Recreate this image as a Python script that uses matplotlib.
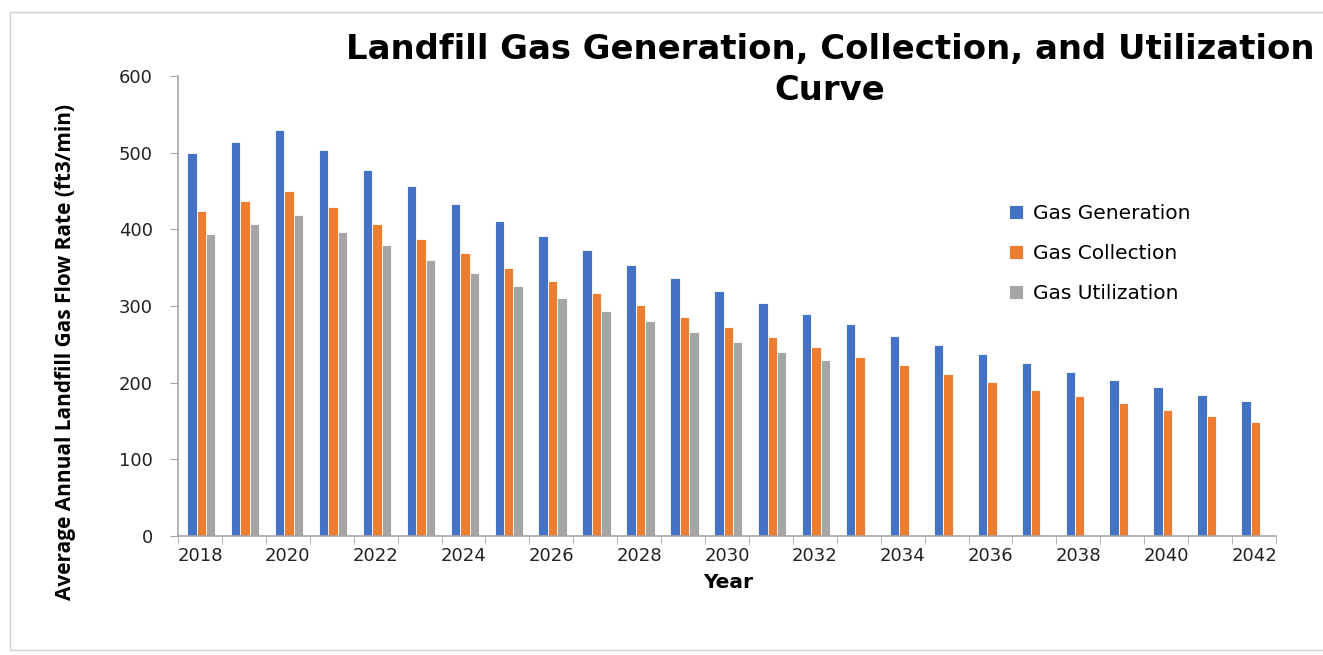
import numpy as np
import matplotlib
matplotlib.use("Agg")
import matplotlib.pyplot as plt
from matplotlib.patches import Rectangle

# ── Data ──────────────────────────────────────────────────────────────────────
years = list(range(2018, 2043))
generation = [500, 514, 530, 504, 478, 456, 433, 411, 391, 373, 354, 337, 320,
              304, 290, 276, 261, 249, 237, 226, 214, 204, 194, 184, 176]
collection = [424, 437, 450, 429, 407, 387, 369, 350, 333, 317, 301, 286, 273,
              259, 246, 234, 223, 211, 201, 191, 182, 173, 164, 156, 149]
utilization = [394, 407, 419, 397, 379, 360, 343, 326, 310, 294, 280, 266, 253,
               240, 229]
series_names = ["Gas Generation", "Gas Collection", "Gas Utilization"]
colors = ["#4472C4", "#ED7D31", "#A5A5A5"]
y_ticks = [0, 100, 200, 300, 400, 500, 600]

W, H = 1323, 655
fig = plt.figure(figsize=(W / 100, H / 100), dpi=100)
ax = fig.add_axes([178 / W, 1 - 536 / H, (1276 - 178) / W, (536 - 76) / H])

x = np.arange(len(years))
bw = 0.215
for off, vals, name, c in zip([-bw, 0, bw],
                              [generation, collection, utilization],
                              series_names, colors):
    xs = x[:len(vals)] + off + 0.03
    ax.bar(xs, vals, width=bw, color=c, edgecolor="white", linewidth=0.6,
           label=name)

ax.set_xlim(-0.5, len(years) - 0.5)
ax.set_ylim(0, 600)
ax.set_yticks(y_ticks)
ax.set_yticklabels([str(v) for v in y_ticks], fontsize=13, color="#222222",
                   family="DejaVu Sans")

# category labels on every other year, tick marks at category boundaries
ax.set_xticks(x[::2])
ax.set_xticklabels([str(y) for y in years[::2]], fontsize=13, color="#222222",
                   family="DejaVu Sans")
ax.tick_params(axis="x", which="major", length=0, pad=8)
ax.set_xticks(np.arange(-0.5, len(years), 1), minor=True)
ax.tick_params(axis="x", which="minor", length=6, color="#A6A6A6", direction="out")
ax.tick_params(axis="y", length=6, color="#A6A6A6", pad=12)

for s in ["top", "right"]:
    ax.spines[s].set_visible(False)
for s in ["left", "bottom"]:
    ax.spines[s].set_color("#A6A6A6")
    ax.spines[s].set_linewidth(1.2)

ax.legend(loc="upper left", bbox_to_anchor=((991 - 178) / (1276 - 178), (536 - 186) / 460),
          frameon=False, labelspacing=1.05, handlelength=0.7,
          handleheight=0.7, handletextpad=0.5,
          prop={"family": "DejaVu Sans", "size": 14.5})

fig.text(66 / W, 1 - 352 / H, "Average Annual Landfill Gas Flow Rate (ft3/min)",
         rotation=90, ha="center", va="center", fontsize=15, fontweight="bold",
         family="Open Sans")
fig.text(728 / W, 1 - 583 / H, "Year", ha="center", va="center", fontsize=14.5,
         fontweight="bold", family="DejaVu Sans")
fig.text(830 / W, 1 - 70 / H,
         "Landfill Gas Generation, Collection, and Utilization\nCurve",
         ha="center", va="center", fontsize=24.4, fontweight="bold",
         family="DejaVu Sans", linespacing=1.33)

fig.patches.append(Rectangle((10 / W, 1 - 650 / H), 1.2, (650 - 12) / H,
                             transform=fig.transFigure, fill=False,
                             edgecolor="#D0D0D0", linewidth=1))

fig.savefig("out.png", dpi=100)
